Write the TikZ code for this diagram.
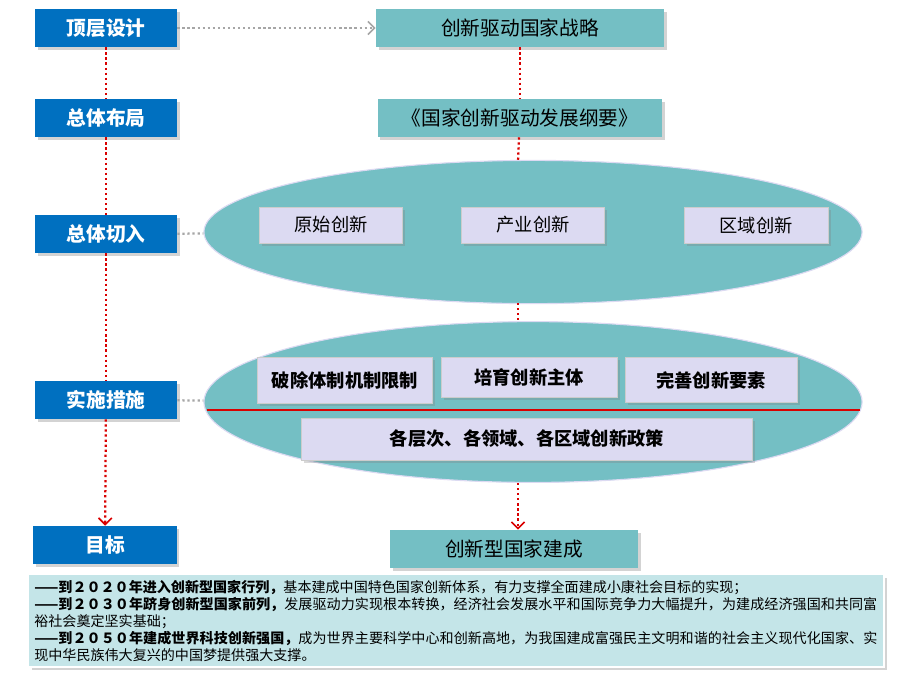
\documentclass[tikz,border=0pt]{standalone}
\usepackage{fontspec}
\setmainfont{Noto Sans CJK SC}
\XeTeXlinebreaklocale "zh"
\XeTeXlinebreakskip=0pt plus 1pt
\usetikzlibrary{arrows.meta,shapes.geometric,shadows,calc}
\definecolor{lblue}{HTML}{0070C0}
\definecolor{teal1}{HTML}{74BFC4}
\definecolor{lav}{HTML}{DCDAF2}
\definecolor{note}{HTML}{C4E5E8}
\tikzset{
  lev/.style={fill=lblue,text=white,font=\bfseries\fontsize{14}{14}\selectfont,minimum width=3.55cm,minimum height=0.95cm,inner sep=0pt,drop shadow={opacity=0.35,shadow xshift=2pt,shadow yshift=-2pt}},
  goal/.style={fill=teal1,font=\fontsize{14}{14}\selectfont,minimum height=0.95cm,inner sep=0pt,drop shadow={opacity=0.35,shadow xshift=2pt,shadow yshift=-2pt}},
  item/.style={fill=lav,draw=gray!40,font=\fontsize{13}{13}\selectfont,minimum height=0.9cm,inner sep=0pt,drop shadow={opacity=0.3,shadow xshift=2pt,shadow yshift=-2pt}},
  oval/.style={ellipse,fill=teal1,draw=lav,thick,minimum width=16.45cm,inner sep=0pt},
  reddot/.style={red!85!black,line width=1.6pt,dotted},
  graydot/.style={gray!70,line width=1.6pt,dotted},
  tip/.style={-{Straight Barb[line width=1.2pt,sep=0pt]}}
}
\begin{document}
\begin{tikzpicture}[x=0.025cm,y=-0.025cm]
\useasboundingbox (0,0) rectangle (898,693);
% left column
\node[lev] (top) at (106,28) {顶层设计};
\node[lev] (layout) at (106,118) {总体布局};
\node[lev] (entry) at (106,234) {总体切入};
\node[lev] (act) at (106,400) {实施措施};
\node[lev,minimum width=3.58cm] (aim) at (105,545) {目标};
% right column
\node[goal,minimum width=7.2cm] (strat) at (520,28) {创新驱动国家战略};
\node[goal,minimum width=7.12cm] (plan) at (520,118) {《国家创新驱动发展纲要》};
\node[oval,minimum height=3.58cm] (ov1) at (533,232) {};
\node[oval,minimum height=4.02cm] (ov2) at (533,402) {};
\node[goal,minimum width=6.2cm] (done) at (514,549) {创新型国家建成};
% items
\node[item,minimum width=3.58cm] (src) at (331,225) {原始创新};
\node[item,minimum width=3.58cm] (ind) at (533,225) {产业创新};
\node[item,minimum width=3.6cm] (reg) at (756,225) {区域创新};
\node[item,minimum width=4.38cm,minimum height=1.15cm] (brk) at (345,380) {\bfseries 破除体制机制限制};
\node[item,minimum width=4.4cm,minimum height=1.0cm] (grow) at (529,377) {\bfseries 培育创新主体};
\node[item,minimum width=4.3cm,minimum height=1.12cm] (fill) at (711,380) {\bfseries 完善创新要素};
\node[item,minimum width=11.28cm,minimum height=1.05cm] (pol) at (527,439) {\bfseries 各层次、各领域、各区域创新政策};
\coordinate (cutl) at (207,410);
\coordinate (cutr) at (860,410);
\coordinate (o1t) at (518,161);
\coordinate (o1b) at (518,303);
\coordinate (o2t) at (518,322);
\coordinate (o2b) at (518,483);
\draw[red!85!black,thick] (cutl) -- (cutr);
% connectors
\draw[reddot] (top) -- (layout);
\draw[reddot] (layout) -- (entry);
\draw[reddot] (entry) -- (act);
\draw[reddot,tip] (act) -- (aim);
\draw[graydot,tip] (top) -- (strat);
\draw[graydot] (entry) -- (ov1);
\draw[graydot] (act) -- (ov2);
\draw[reddot] (strat) -- (plan);
\draw[reddot] (plan) -- (o1t);
\draw[reddot] (o1b) -- (o2t);
\draw[reddot,tip] (o2b) -- (o2b |- done.north);
% notes
\node[fill=note,draw=white,line width=1pt,drop shadow={opacity=0.35,shadow xshift=2pt,shadow yshift=-2pt},text width=21.1cm,inner sep=4pt,align=left,anchor=north west,font=\fontsize{10}{12}\selectfont] (note) at (28,574)
{\textbf{——到２０２０年进入创新型国家行列，}基本建成中国特色国家创新体系，有力支撑全面建成小康社会目标的实现；\\
\textbf{——到２０３０年跻身创新型国家前列，}发展驱动力实现根本转换，经济社会发展水平和国际竞争力大幅提升，为建成经济强国和共同富裕社会奠定坚实基础；\\
\textbf{——到２０５０年建成世界科技创新强国，}成为世界主要科学中心和创新高地，为我国建成富强民主文明和谐的社会主义现代化国家、实现中华民族伟大复兴的中国梦提供强大支撑。};
\end{tikzpicture}
\end{document}
